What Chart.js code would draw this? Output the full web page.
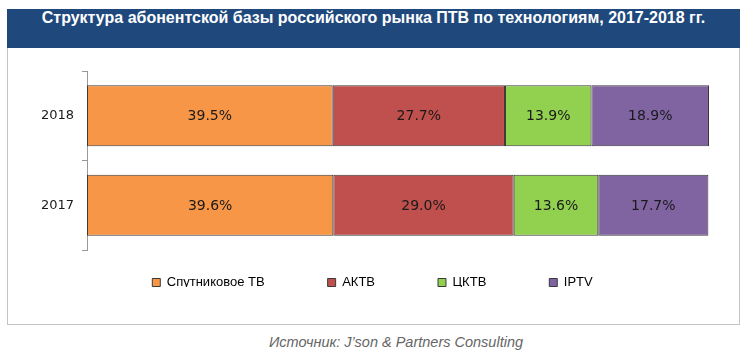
<!DOCTYPE html>
<html>
<head>
<meta charset="utf-8">
<script src="https://cdn.jsdelivr.net/npm/chart.js@4/dist/chart.umd.min.js"></script>
<style>
    body { margin: 0; background: #fff; }
    #title {
        position: absolute; left: 7px; top: 9px; width: 733px; height: 39px;
        background: #1f497d; color: #fff; text-align: center; line-height: 39px;
        font: bold 16px "Liberation Sans", sans-serif; z-index: 2;
    }
    #box {
        position: absolute; left: 7px; top: 47px; width: 731px; height: 276px;
        border: 1px solid #c4c4c4;
    }
    #source {
        position: absolute; left: 0; width: 792px; top: 334px; text-align: center;
        font: italic 14.5px "Liberation Sans", sans-serif; color: #666;
    }
</style>
</head>
<body>
<div id="title">Структура абонентской базы российского рынка ПТВ по технологиям, 2017-2018 гг.</div>
<div id="box"><canvas id="techShare" width="731" height="276"></canvas></div>
<div id="source">Источник: J’son &amp; Partners Consulting</div>
<script>
// years and shares, %
var years = ["2018", "2017"];
var seriesNames = ["Спутниковое ТВ", "АКТВ", "ЦКТВ", "IPTV"];
var satellite = [39.5, 39.6];
var analogCable = [27.7, 29.0];
var digitalCable = [13.9, 13.6];
var iptv = [18.9, 17.7];

var colors = ["#f79646", "#c0504d", "#92d050", "#8064a2"];

var barLabels = {
    id: "barLabels",
    afterDatasetsDraw: function (chart) {
        var c = chart.ctx;
        c.save();
        c.font = "14px 'DejaVu Sans'";
        c.fillStyle = "#1a1a1a";
        c.textAlign = "center";
        c.textBaseline = "middle";
        chart.data.datasets.forEach(function (ds, i) {
            chart.getDatasetMeta(i).data.forEach(function (bar, j) {
                var p = bar.getCenterPoint();
                c.fillText(ds.data[j].toFixed(1) + "%", p.x, p.y + 1);
            });
        });
        c.restore();
    },
};

// wide gaps between legend items but legend sits close to the bars
var legendSpacing = {
    id: "legendSpacing",
    beforeInit: function (chart) {
        var fit = chart.legend.fit;
        chart.legend.fit = function () {
            fit.bind(chart.legend)();
            this.height = 74;
        };
    },
    afterLayout: function (chart) {
        chart.legend.top -= 37;
        chart.legend.bottom -= 37;
        chart.legend.left += 14;
        chart.legend.right += 14;
    },
};

var data = [satellite, analogCable, digitalCable, iptv];
var datasets = [];
for (var i in data) {
    datasets.push({
        label: seriesNames[i],
        data: data[i],
        backgroundColor: colors[i],
        borderColor: "#3a3a3a",
        borderWidth: 1,
        borderSkipped: false,
        barPercentage: 0.68,
        categoryPercentage: 1,
    });
}

var ctx = document.getElementById("techShare").getContext("2d");
var chart = new Chart(ctx, {
    type: "bar",
    data: {
        labels: years,
        datasets: datasets,
    },
    options: {
        indexAxis: "y",
        responsive: false,
        animation: false,
        layout: { padding: { top: 23, right: 30, left: 0, bottom: 0 } },
        scales: {
            x: { stacked: true, display: false, min: 0, max: 100 },
            y: {
                stacked: true,
                grid: { drawOnChartArea: false, tickLength: 5, color: "#999", offset: true },
                border: { color: "#999" },
                ticks: { font: { family: "DejaVu Sans", size: 13 }, color: "#1a1a1a", padding: 8 },
                afterFit: function (scale) {
                    scale.width = 79;
                },
            },
        },
        plugins: {
            legend: {
                position: "bottom",
                labels: {
                    boxWidth: 8,
                    boxHeight: 8,
                    padding: 63,
                    color: "#000",
                    font: { family: "Liberation Sans", size: 13 },
                },
            },
            tooltip: { enabled: false },
        },
    },
    plugins: [barLabels, legendSpacing],
});
</script>
</body>
</html>
